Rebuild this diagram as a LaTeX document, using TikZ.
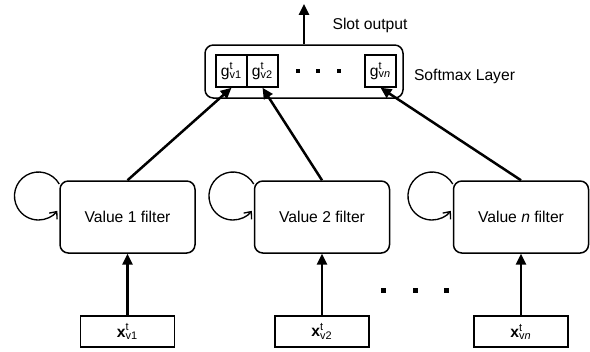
\documentclass[tikz,border=0pt]{standalone}
\usepackage{fontspec}
\setmainfont{Liberation Sans}
\usetikzlibrary{arrows.meta,positioning,calc}
\newcommand{\supsub}[3]{#1\rlap{\textsuperscript{#2}}\textsubscript{#3}}
\tikzset{
  filterbox/.style={draw,line width=0.9pt,rounded corners=5pt,minimum width=81pt,minimum height=43.2pt,inner sep=0pt},
  inbox/.style={draw,line width=0.9pt,minimum width=56.4pt,minimum height=18.6pt,inner sep=0pt},
  gbox/.style={draw,line width=0.9pt,minimum width=18.6pt,minimum height=19.2pt,inner sep=0pt},
  softbox/.style={draw,line width=0.9pt,rounded corners=5pt,minimum width=118.8pt,minimum height=31.8pt,inner sep=0pt},
  flow/.style={line width=1.5pt,-{Triangle[length=6.5pt,width=6pt]}},
  loopline/.style={line width=0.8pt,-{Straight Barb[length=3.5pt,width=6pt]}},
  dotsq/.style={fill,minimum size=2.4pt,inner sep=0pt}
}
\begin{document}
\begin{tikzpicture}[x=0.6pt,y=0.6pt,font=\fontsize{9.4}{11}\selectfont]
  \useasboundingbox (0,0) rectangle (590,351);
  % Softmax layer
  \node[softbox] (soft) at (304,279.5){};
  \node[gbox] (g1) at (231.5,280){\supsub{g}{t}{v1}};
  \node[gbox] (g2) at (262.5,280){\supsub{g}{t}{v2}};
  \node[gbox] (gn) at (380.5,280){\supsub{g}{t}{v\textit{n}}};
  \foreach \x [count=\i] in {298,318,339}{
    \node[dotsq] (gdot\i) at (\x,280){};
  }
  \node (softlabel) at (464.5,275){Softmax Layer};
  \coordinate (slot) at (304,347);
  \node (slotlabel) at (370,326){Slot output};
  \draw[flow] (soft.north) -- (slot);

  % Value filters
  \node[filterbox] (f1) at (127.5,134){Value 1 filter};
  \node[filterbox] (f2) at (322,134){Value 2 filter};
  \node[filterbox] (fn) at (521,134){Value \textit{n} filter};
  \node[inbox] (x1) at (127.5,19.5){\supsub{\textbf{x}}{t}{v1}};
  \node[inbox] (x2) at (322,19.5){\supsub{\textbf{x}}{t}{v2}};
  \node[inbox] (xn) at (521,19.5){\supsub{\textbf{x}}{t}{v\textit{n}}};
  \foreach \x [count=\i] in {383,415,446}{
    \node[dotsq,minimum size=3pt] (xdot\i) at (\x,61){};
  }

  \foreach \f in {1,2,n}{
    \draw[flow] (x\f) -- (f\f);
    \draw[flow] (f\f.north) -- (g\f.south);
    \draw[loopline] ($(f\f.west)+(0,33)$) arc[start angle=30,end angle=322,radius=24];
  }
\end{tikzpicture}
\end{document}
